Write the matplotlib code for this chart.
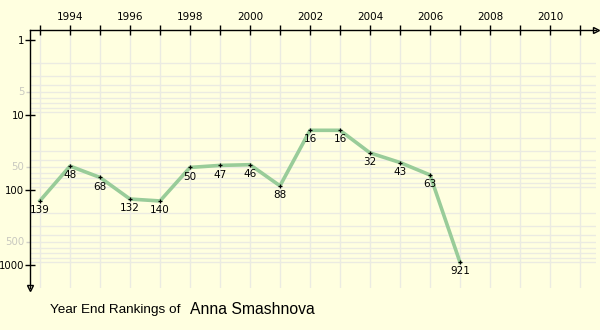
import matplotlib.pyplot as plt
from matplotlib.ticker import FixedLocator, NullFormatter

years = [1993, 1994, 1995, 1996, 1997, 1998, 1999, 2000, 2001, 2002,
         2003, 2004, 2005, 2006, 2007]
ranks = [139, 48, 68, 132, 140, 50, 47, 46, 88, 16, 16, 32, 43, 63, 921]
player = "Anna Smashnova"

bg = "#FFFFE0"
W, H = 600, 330

fig = plt.figure(figsize=(6, 3.3), dpi=100, facecolor=bg)

# axes box in pixels: y-axis at x=30, x-axis at y=30 (from top)
x0, x1 = 30, 596
y0, y1 = 30, 288
ax = fig.add_axes([x0 / W, 1 - y1 / H, (x1 - x0) / W, (y1 - y0) / H])
ax.set_facecolor(bg)

# pixel -> data: year 1993 at x=40, 30 px per year; rank 1 at y=40, 75 px per decade
ax.set_xlim(1993 - 10 / 30, 1993 + (x1 - 40) / 30)
ax.set_yscale("log")
ax.set_ylim(10 ** ((y1 - 40) / 75), 10 ** (-(40 - y0) / 75))

# grid
grid_c = "#EBEBE2"
for yr in range(1993, 2012):
    ax.axvline(yr, color=grid_c, lw=1, zorder=0)
for dec in [1, 10, 100, 1000]:
    for m in range(2, 10):
        v = dec * m
        if v < 2000:
            ax.axhline(v, color=grid_c, lw=1, zorder=0)

ax.plot(years, ranks, color="#99CC99", lw=2.6, solid_joinstyle="round",
        zorder=2)
ax.plot(years, ranks, ls="none", marker="+", ms=3, mew=0.9, color="black",
        zorder=3)
for yr, r in zip(years, ranks):
    ax.annotate(str(r), (yr, r), xytext=(0, -3), textcoords="offset points",
                ha="center", va="top", fontsize=7.5, color="black", zorder=4)

# spines
for s in ["right", "bottom"]:
    ax.spines[s].set_visible(False)
for s in ["left", "top"]:
    ax.spines[s].set_linewidth(1)
    ax.spines[s].set_color("black")

# arrow heads
ax.plot(1, 1, marker=">", ms=5, color="black", mfc="none", transform=ax.transAxes,
        clip_on=False)
ax.plot(0, 0, marker="v", ms=5, color="black", mfc="none", transform=ax.transAxes,
        clip_on=False)

# x ticks on top
ax.xaxis.set_ticks_position("top")
ax.set_xticks(range(1993, 2012))
ax.set_xticklabels([str(y) if y % 2 == 0 else "" for y in range(1993, 2012)],
                   fontsize=7.5)
ax.tick_params(axis="x", direction="inout", length=7, width=1, pad=2)

# y ticks
ax.yaxis.set_major_locator(FixedLocator([1, 10, 100, 1000]))
ax.yaxis.set_minor_locator(FixedLocator([5, 50, 500]))
ax.set_yticklabels(["1", "10", "100", "1000"], fontsize=7.3)
ax.yaxis.set_minor_formatter(NullFormatter())
ax.tick_params(axis="y", which="major", direction="inout", length=7, width=1, pad=0.5)
ax.tick_params(axis="y", which="minor", direction="out", length=3, width=1,
               color="#D0D0C8")
for v in [5, 50, 500]:
    ax.text(-0.01, v, str(v), transform=ax.get_yaxis_transform(), ha="right",
            va="center", fontsize=7.3, color="#C8C8C0")

fig.text(50 / W, 1 - 310 / H, "Year End Rankings of", fontsize=9.7,
         family="Liberation Sans", va="center", ha="left")
fig.text(190 / W, 1 - 309 / H, player, fontsize=11.3,
         family="Liberation Sans", va="center", ha="left")

fig.savefig("out.png", dpi=100, facecolor=bg)
